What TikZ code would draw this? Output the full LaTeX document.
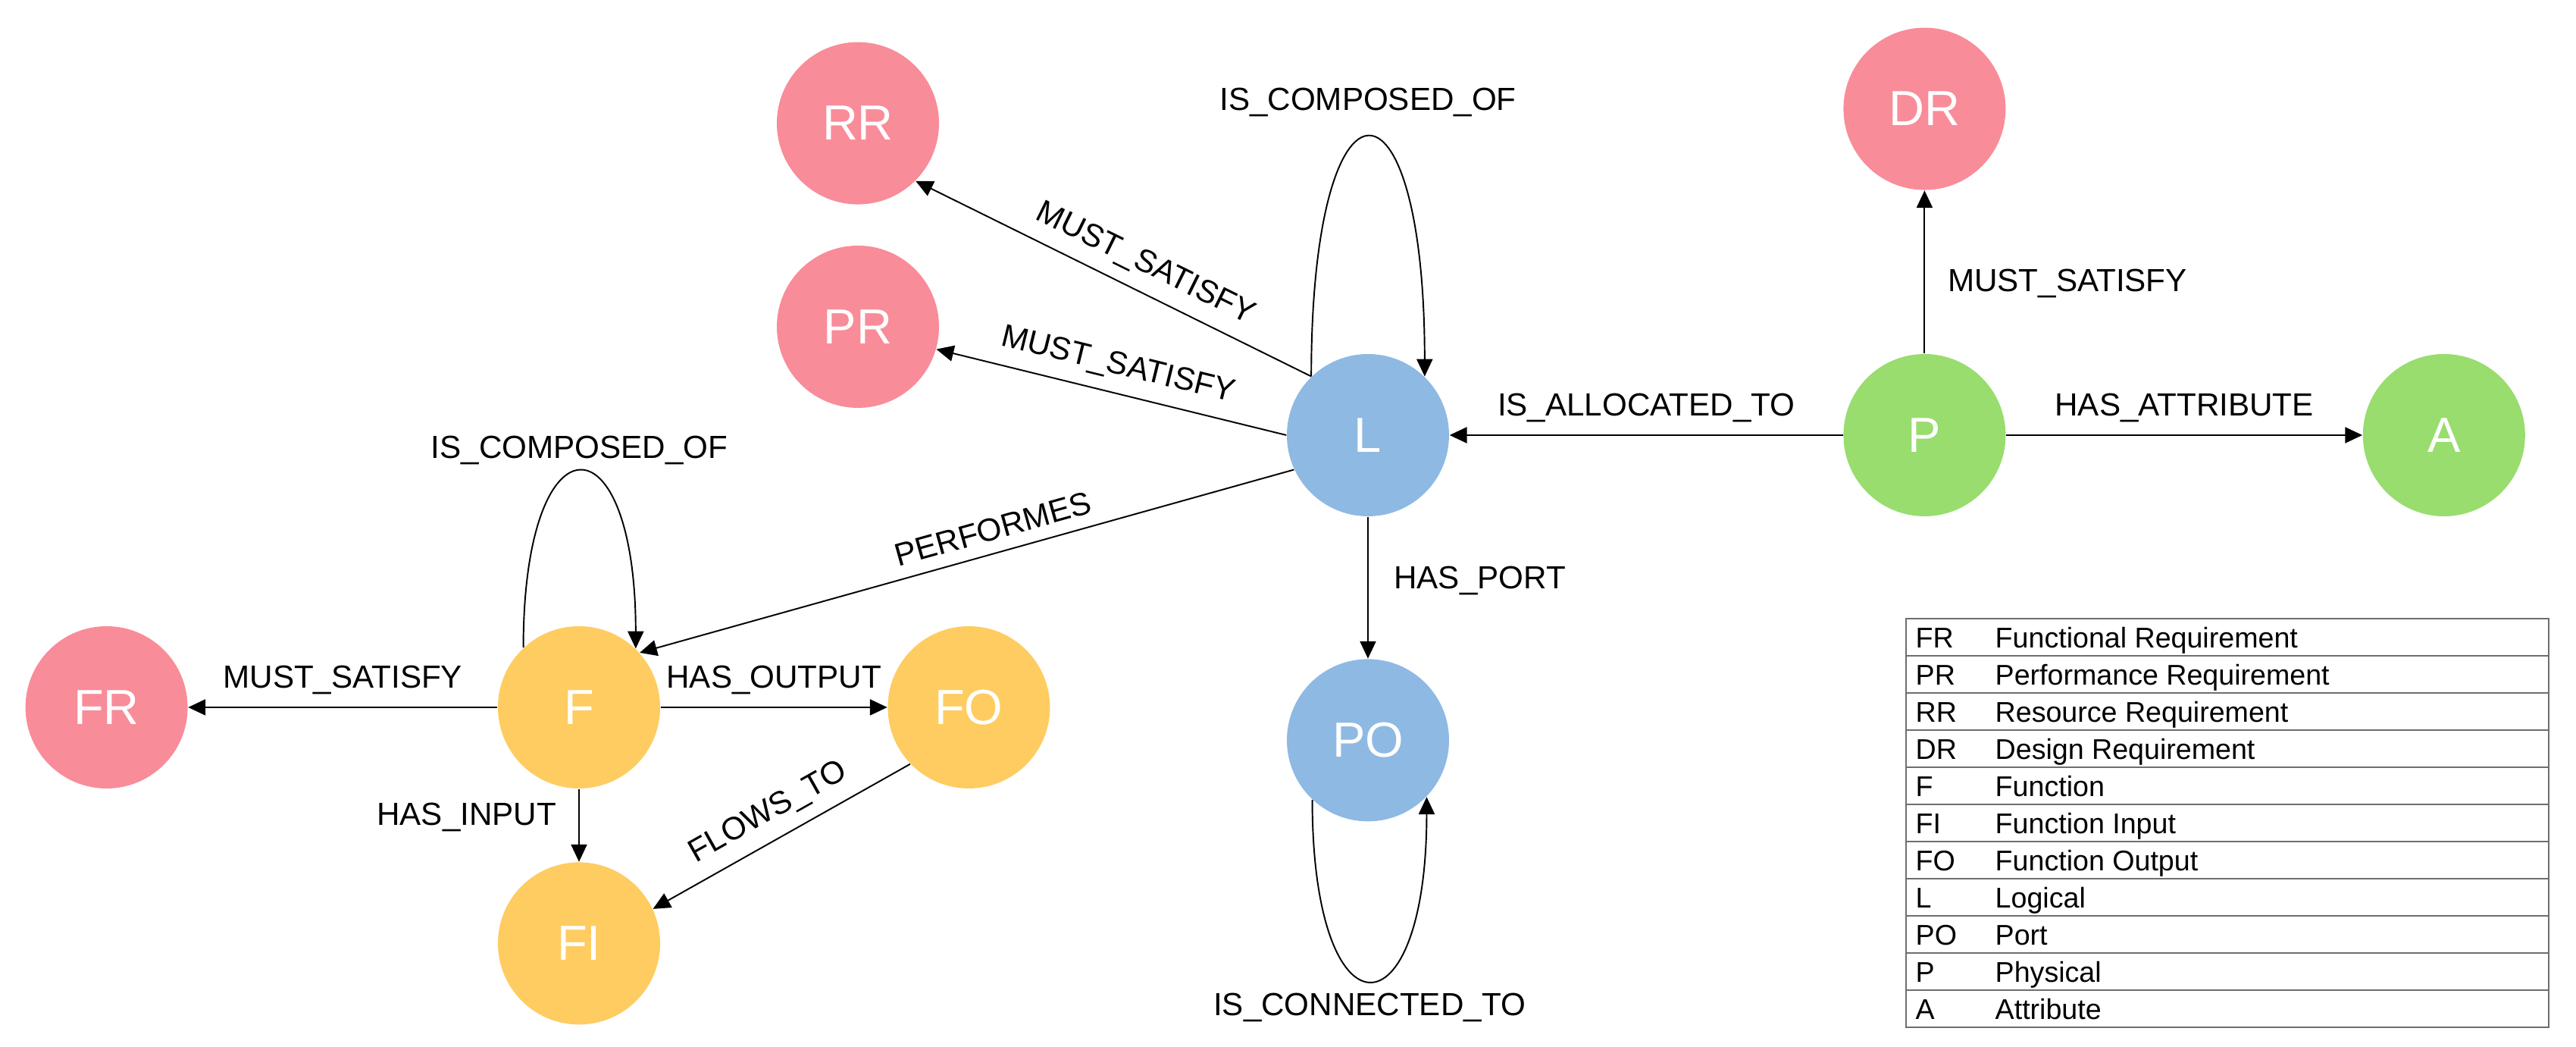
\documentclass[tikz,border=0pt]{standalone}
\usepackage{fontspec}
\setmainfont{Liberation Sans}
\usepackage{tikz}
\usetikzlibrary{positioning, arrows.meta}

\begin{document}
\begin{tikzpicture}[
  entity/.style={
    circle,
    minimum size=2.14cm,
    inner sep=0pt,
    text=white,
    font=\fontsize{18.5}{20}\selectfont,
  },
  rel/.style={
    draw=black,
    line width=0.55pt,
    -{Triangle[length=6.5pt, width=6pt]},
  },
  lbl/.style={
    font=\fontsize{12}{14}\selectfont,
    inner sep=4.5pt,
  },
  legtext/.style={
    font=\fontsize{10.7}{12}\selectfont,
    anchor=base west,
    inner sep=0pt,
  },
]
  \definecolor{pinkish}{RGB}{249,140,153}
  \definecolor{blueish}{RGB}{142,185,227}
  \definecolor{greenish}{RGB}{152,221,110}
  \definecolor{yellowish}{RGB}{255,204,97}
  \definecolor{gridgray}{RGB}{110,110,110}

  \useasboundingbox (0,0) rectangle (33.99,13.81);

  \node[entity, fill=blueish] (L) at (18.05,8.07) {L};
  \node[entity, fill=blueish, below=1.87cm of L] (PO) {PO};
  \node[entity, fill=greenish, right=5.19cm of L] (P) {P};
  \node[entity, fill=greenish, right=4.70cm of P] (A) {A};
  \node[entity, fill=pinkish, above=2.15cm of P] (DR) {DR};
  \node[entity, fill=pinkish] (PR) at (11.32,9.50) {PR};
  \node[entity, fill=pinkish, above=0.53cm of PR] (RR) {RR};
  \node[entity, fill=yellowish] (F) at (7.64,4.48) {F};
  \node[entity, fill=pinkish, left=4.08cm of F] (FR) {FR};
  \node[entity, fill=yellowish, right=2.99cm of F] (FO) {FO};
  \node[entity, fill=yellowish, below=0.96cm of F] (FI) {FI};

  \draw[rel] (L.134) .. controls +(90:4.2) and +(90:4.2) ..
    node[lbl, above, yshift=3pt] {IS\_COMPOSED\_OF} (L.46);
  \draw[rel] (L.134) -- node[lbl, above, sloped, pos=0.45] {MUST\_SATISFY} (RR.-45);
  \draw[rel] (L.180) -- node[lbl, above, sloped] {MUST\_SATISFY} (PR.-16);
  \draw[rel] (L.205) -- node[lbl, above, sloped, pos=0.45] {PERFORMES} (F.42);
  \draw[rel] (L.270) -- node[lbl, right=5pt, pos=0.45] {HAS\_PORT} (PO.90);
  \draw[rel] (PO.227) .. controls +(-90:3.2) and +(-90:3.2) ..
    node[lbl, below] {IS\_CONNECTED\_TO} (PO.316);

  \draw[rel] (P.180) -- node[lbl, above] {IS\_ALLOCATED\_TO} (L.0);
  \draw[rel] (P.90) -- node[lbl, right=4pt, pos=0.43] {MUST\_SATISFY} (DR.270);
  \draw[rel] (P.0) -- node[lbl, above] {HAS\_ATTRIBUTE} (A.180);

  \draw[rel] (F.133) .. controls +(90:3.1) and +(90:3.1) ..
    node[lbl, above, inner sep=2.5pt] {IS\_COMPOSED\_OF} (F.46);
  \draw[rel] (F.180) -- node[lbl, above] {MUST\_SATISFY} (FR.0);
  \draw[rel] (F.0) -- node[lbl, above] {HAS\_OUTPUT} (FO.180);
  \draw[rel] (F.270) -- node[lbl, left=3.75pt, pos=0.39] {HAS\_INPUT} (FI.90);
  \draw[rel] (FO.224) -- node[lbl, above, sloped] {FLOWS\_TO} (FI.25);

  \foreach \abbr/\desc [count=\i] in {
    FR/Functional Requirement,
    PR/Performance Requirement,
    RR/Resource Requirement,
    DR/Design Requirement,
    F/Function,
    FI/Function Input,
    FO/Function Output,
    L/Logical,
    PO/Port,
    P/Physical,
    A/Attribute} {
    \node[legtext] (key\i) at (25.27, {5.65-0.49*\i+0.10}) {\abbr};
    \node[legtext] (desc\i) at (26.32, {5.65-0.49*\i+0.10}) {\desc};
    \draw[gridgray, line width=0.6pt] (25.15, {5.65-0.49*\i}) -- (33.63, {5.65-0.49*\i});
  }
  \draw[gridgray, line width=0.6pt] (25.15,5.65) rectangle (33.63,0.26);
\end{tikzpicture}
\end{document}
